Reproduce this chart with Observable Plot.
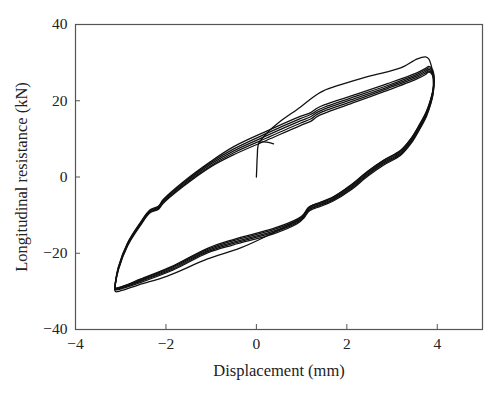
<!DOCTYPE html>
<html>
<head>
<meta charset="utf-8">
<script src="https://cdn.jsdelivr.net/npm/d3@7"></script>
<script src="https://cdn.jsdelivr.net/npm/@observablehq/plot@0.6"></script>
<style>
  html, body { margin: 0; padding: 0; background: #fff; }
</style>
</head>
<body>
<div id="chart"></div>
<script>
// Axis ticks
const xTicks = [-4, -2, 0, 2, 4];
const yTicks = [-40, -20, 0, 20, 40];
const xDomain = [-4, 5];
const yDomain = [-40, 40];

// Shared displacement samples (mm) for the loading (upper) branch of the stabilised cycles
const upperX = [-3.13, -3.12, -3.05, -2.85, -2.57, -2.35, -2.17, -2.06, -1.62, -1.02, -0.51, 0.24, 0.97, 1.20, 1.35, 1.50, 2.08, 2.90, 3.56, 3.74, 3.81, 3.87, 3.92];
// Resistance (kN) along the loading branch, one array per cycle
const upperA = [-29.2, -27.7, -23.5, -17.3, -12.0, -8.6, -7.7, -5.9, -1.3, 4.0, 7.9, 12.1, 15.9, 16.9, 18.1, 18.9, 21.2, 24.5, 27.4, 28.5, 29.0, 28.6, 27.2];
const upperB = [-29.3, -27.9, -23.7, -17.5, -12.2, -8.8, -7.9, -6.2, -1.6, 3.7, 7.3, 11.5, 15.3, 16.4, 17.5, 18.3, 20.7, 24.0, 27.0, 28.1, 28.6, 28.2, 26.8];
const upperC = [-29.4, -28.0, -23.9, -17.7, -12.4, -9.0, -8.1, -6.4, -1.9, 3.3, 6.8, 10.9, 14.7, 15.8, 17.0, 17.8, 20.2, 23.6, 26.6, 27.7, 28.2, 27.8, 26.4];
const upperD = [-29.5, -28.1, -24.1, -17.9, -12.6, -9.2, -8.3, -6.7, -2.2, 2.9, 6.3, 10.3, 14.1, 15.2, 16.5, 17.3, 19.7, 23.2, 26.2, 27.3, 27.8, 27.4, 26.0];
const upperE = [-29.6, -28.3, -24.3, -18.1, -12.8, -9.4, -8.5, -6.9, -2.5, 2.6, 5.8, 9.7, 13.5, 14.6, 15.9, 16.7, 19.2, 22.7, 25.8, 26.9, 27.5, 27.1, 25.7];

// Shared displacement samples (mm) for the unloading (lower) branch
const lowerX = [3.91, 3.86, 3.76, 3.60, 3.42, 3.19, 2.81, 2.46, 2.08, 1.70, 1.35, 1.25, 1.15, 1.05, 0.91, 0.38, -0.51, -1.08, -1.84, -2.57, -2.90, -3.08, -3.13];
const lowerA = [23.2, 20.5, 17.1, 13.5, 10.0, 6.9, 4.3, 1.4, -2.3, -5.3, -7.0, -7.4, -8.1, -9.8, -11.0, -13.5, -16.4, -18.7, -23.3, -26.8, -28.4, -29.1, -29.2];
const lowerB = [22.9, 20.2, 16.8, 13.2, 9.7, 6.6, 4.0, 1.1, -2.6, -5.5, -7.2, -7.6, -8.3, -10.0, -11.3, -13.8, -16.7, -19.0, -23.5, -27.0, -28.5, -29.2, -29.3];
const lowerC = [22.6, 19.9, 16.5, 12.9, 9.4, 6.3, 3.7, 0.8, -2.9, -5.8, -7.5, -7.9, -8.6, -10.3, -11.6, -14.2, -17.1, -19.3, -23.8, -27.2, -28.6, -29.3, -29.4];
const lowerD = [22.3, 19.6, 16.2, 12.6, 9.1, 6.0, 3.4, 0.5, -3.2, -6.0, -7.7, -8.1, -8.8, -10.5, -11.9, -14.5, -17.4, -19.6, -24.1, -27.4, -28.8, -29.4, -29.5];
const lowerE = [22.0, 19.3, 15.9, 12.3, 8.8, 5.7, 3.1, 0.2, -3.5, -6.3, -8.0, -8.4, -9.1, -10.8, -12.2, -14.9, -17.8, -19.9, -24.4, -27.7, -29.0, -29.6, -29.6];

// First (virgin) cycle, starting from the origin
const firstX = [0.00, 0.01, 0.02, 0.05, 0.24, 0.53, 0.97, 1.26, 1.48, 2.46, 3.19, 3.56, 3.74, 3.81, 3.87, 3.90, 3.91, 3.86, 3.76, 3.60, 3.42, 3.19, 2.81, 2.46, 2.08, 1.70, 1.35, 1.25, 1.15, 1.05, 0.91, 0.38, -0.35, -1.08, -1.97, -2.60, -3.01, -3.11, -3.13];
const firstY = [0.0, 2.9, 5.5, 8.7, 11.6, 14.6, 18.3, 21.0, 22.6, 26.3, 28.6, 31.0, 31.5, 31.0, 29.1, 27.0, 23.3, 20.6, 17.2, 13.6, 10.1, 7.0, 4.4, 1.5, -2.2, -5.2, -6.9, -7.3, -8.0, -9.7, -11.3, -14.6, -18.6, -21.5, -26.0, -28.3, -29.9, -30.1, -29.7];

// Short final tail near the origin
const tailX = [0.05, 0.15, 0.26, 0.38];
const tailY = [8.9, 9.2, 9.1, 8.7];

const cycles = [
  ["A", upperA, lowerA], ["B", upperB, lowerB], ["C", upperC, lowerC],
  ["D", upperD, lowerD], ["E", upperE, lowerE]
];

const rows = [];
firstX.forEach((x, i) => rows.push({cycle: "first", x, y: firstY[i]}));
for (const [name, up, low] of cycles) {
  upperX.forEach((x, i) => rows.push({cycle: name, x, y: up[i]}));
  lowerX.forEach((x, i) => rows.push({cycle: name, x, y: low[i]}));
}
tailX.forEach((x, i) => rows.push({cycle: "tail", x, y: tailY[i]}));

const axisColor = "#555";

const chart = Plot.plot({
  width: 500,
  height: 393,
  marginLeft: 75,
  marginRight: 18,
  marginTop: 24,
  marginBottom: 64,
  style: {fontFamily: "'Liberation Serif', 'DejaVu Serif', serif", fontSize: "15.5px", color: "#222", background: "#fff"},
  x: {domain: xDomain},
  y: {domain: yDomain},
  marks: [
    Plot.frame({stroke: axisColor, strokeWidth: 1.2}),
    Plot.line(rows, {x: "x", y: "y", z: "cycle", stroke: "#111", strokeWidth: 1.3, curve: "catmull-rom"}),
    Plot.axisX({ticks: xTicks, tickSize: -5, tickPadding: 13, stroke: axisColor, fill: "#222", fontSize: 15.5, label: null}),
    Plot.axisX({ticks: [], label: "Displacement (mm)", labelAnchor: "center", labelOffset: 46, labelArrow: "none", fontSize: 16.5, fill: "#222"}),
    Plot.axisY({ticks: yTicks, tickSize: -5, tickPadding: 13, stroke: axisColor, fill: "#222", fontSize: 15.5, label: null}),
    Plot.axisY({ticks: [], label: "Longitudinal resistance (kN)", labelAnchor: "center", labelOffset: 60, labelArrow: "none", fontSize: 16.5, fill: "#222"})
  ]
});
document.getElementById("chart").appendChild(chart);
</script>
</body>
</html>
